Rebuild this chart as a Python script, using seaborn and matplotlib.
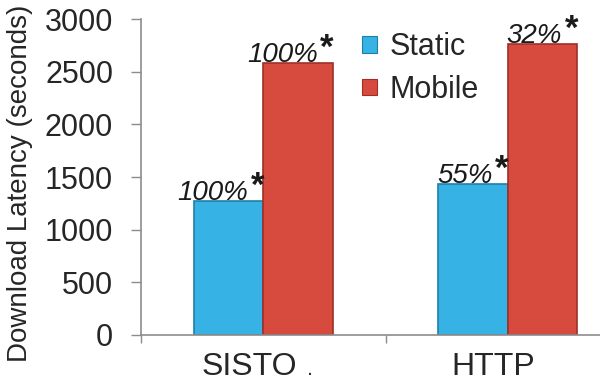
import matplotlib
matplotlib.use("Agg")
import matplotlib.pyplot as plt
import seaborn as sns
import pandas as pd
from matplotlib.patches import Patch
from matplotlib.transforms import ScaledTranslation

categories = ["SISTO", "HTTP"]
series_names = ["Static", "Mobile"]
static_values = [1270, 1430]
mobile_values = [2580, 2760]
static_labels = ["100%", "55%"]
mobile_labels = ["100%", "32%"]
y_ticks = [0, 500, 1000, 1500, 2000, 2500, 3000]

colors = {"Static": "#36B3E4", "Mobile": "#D74B3F"}
edges = {"Static": "#1F7FA8", "Mobile": "#9E2F27"}

df = pd.DataFrame({
    "Protocol": categories * 2,
    "Type": [series_names[0]] * len(categories) + [series_names[1]] * len(categories),
    "Latency": static_values + mobile_values,
})

sns.set_theme(style="white")
plt.rcParams["font.family"] = ["Liberation Sans", "DejaVu Sans"]

fig = plt.figure(figsize=(6, 3.88), dpi=100)
ax = fig.add_axes([0.235, 0.1366, 0.815, 0.8144])

sns.barplot(data=df, x="Protocol", y="Latency", hue="Type", order=categories,
            hue_order=series_names, palette=colors, width=0.57, gap=0,
            saturation=1, ax=ax, legend=False)

for cont, name in zip(ax.containers, series_names):
    for p in cont:
        p.set_edgecolor(edges[name])
        p.set_linewidth(1.2)

ax.set_xlim(-0.5, 1.5)
ax.set_ylim(0, 3000)
ax.set_yticks(y_ticks)
ax.tick_params(axis="y", labelsize=22, length=7, width=1, color="#8c8c8c",
               direction="out", pad=13, left=True)
ax.set_xticks([-0.5, 0.5, 1.5], labels=["", "", ""])
ax.set_xticks([0, 1], labels=categories, minor=True)
ax.tick_params(axis="x", which="major", length=6, width=1, color="#8c8c8c",
               direction="out", bottom=True)
ax.tick_params(axis="x", which="minor", length=0, labelsize=23, pad=12)
shift = ScaledTranslation(-14 / 100, 0, fig.dpi_scale_trans)
for lab in ax.xaxis.get_minorticklabels():
    lab.set_transform(lab.get_transform() + shift)
ax.set_xlabel("")
ax.set_ylabel("Download Latency (seconds)", fontsize=20)
ax.yaxis.set_label_coords((33 - 141) / 489, 0.48)

for s in ["top", "right"]:
    ax.spines[s].set_visible(False)
for s in ["left", "bottom"]:
    ax.spines[s].set_color("#8c8c8c")
    ax.spines[s].set_linewidth(1.2)

all_labels = [static_labels, mobile_labels]
for cont, labs in zip(ax.containers, all_labels):
    for p, lab in zip(cont, labs):
        xc = p.get_x() + p.get_width() / 2
        h = p.get_height()
        ax.annotate(lab, (xc, h), xytext=(14, 1), textcoords="offset points",
                    ha="right", va="baseline", fontsize=20, style="italic",
                    color="#1a1a1a")
        ax.annotate("*", (xc, h), xytext=(16, 4), textcoords="offset points",
                    ha="left", va="baseline", fontsize=25, fontweight="bold",
                    color="#1a1a1a")

ax.text(0.345, -0.11, ".", transform=ax.transAxes, fontsize=16,
        ha="center", va="center", color="#333333")

handles = [Patch(facecolor=colors[n], edgecolor=edges[n], linewidth=0.8) for n in series_names]
fig.legend(handles, series_names, loc="upper left", bbox_to_anchor=(0.583, 0.948),
           frameon=False, fontsize=22, handlelength=0.5, handleheight=0.45,
           handletextpad=0.4, labelspacing=0.4, borderaxespad=0)

fig.savefig("out.png", dpi=100)
